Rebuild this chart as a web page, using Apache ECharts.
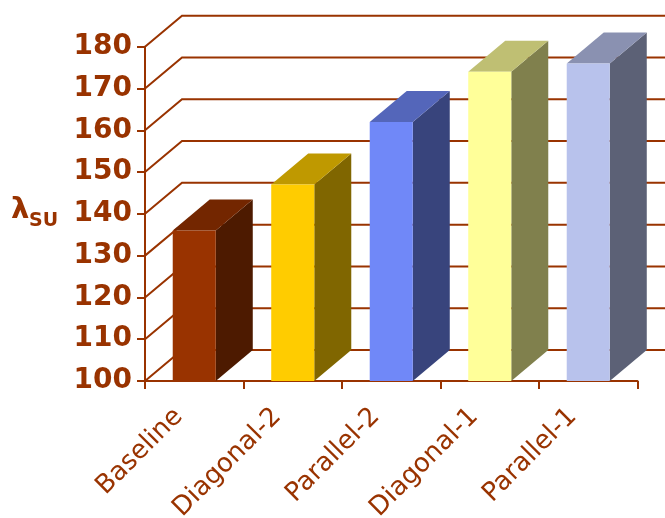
<!DOCTYPE html>
<html><head><meta charset="utf-8">
<script src="https://cdn.jsdelivr.net/npm/echarts@6/dist/echarts.min.js"></script>
<style>html,body{margin:0;padding:0;background:#fff}#c{width:665px;height:518px}</style>
</head><body><div id="c"></div>
<script>
const categories = ['Baseline', 'Diagonal-2', 'Parallel-2', 'Diagonal-1', 'Parallel-1'];
const values = [136, 147, 162, 174, 176];
const yTicks = [100, 110, 120, 130, 140, 150, 160, 170, 180];
const frontColors = ['#993300', '#FFCC00', '#7088F8', '#FFFF99', '#B8C2EC'];
const topColors = ['#732600', '#BF9900', '#5466BA', '#BFBF73', '#8A91B1'];
const sideColors = ['#4D1A00', '#806600', '#38447C', '#80804D', '#5C6176'];

const AXIS = '#993300';
const FONT = 'DejaVu Sans, Verdana, sans-serif';
const DEPTH = [37, -31];
const BAR_RATIO = 0.437;

const chart = echarts.init(document.getElementById('c'), null, {renderer: 'canvas'});

const wallData = yTicks.map(v => [0, v]);
const barData = values.map((v, i) => [i, v]);

chart.setOption({
  animation: false,
  backgroundColor: '#fff',
  grid: {left: 145, right: 27.5, top: 46.7, bottom: 137, containLabel: false, outerBoundsMode: 'none'},
  xAxis: [{
    type: 'category',
    data: categories,
    boundaryGap: true,
    axisLine: {lineStyle: {color: AXIS, width: 2}},
    axisTick: {show: true, length: 8, lineStyle: {color: AXIS, width: 2}},
    axisLabel: {rotate: 45, interval: 0, margin: 16, padding: [0, 22, 0, 0], color: AXIS, fontFamily: FONT, fontSize: 26},
    splitLine: {show: false}
  }, {
    type: 'category',
    data: categories,
    position: 'bottom',
    boundaryGap: true,
    axisLine: {show: false},
    axisTick: {show: true, inside: true, alignWithLabel: true, length: 5, lineStyle: {color: AXIS, width: 2}},
    axisLabel: {show: false},
    splitLine: {show: false}
  }],
  yAxis: {
    type: 'value',
    min: 100, max: 180, interval: 10,
    axisLine: {show: true, lineStyle: {color: AXIS, width: 2}},
    axisTick: {show: true, length: 8, lineStyle: {color: AXIS, width: 2}},
    axisLabel: {margin: 13, color: AXIS, fontFamily: FONT, fontSize: 28, fontWeight: 'bold'},
    splitLine: {show: false}
  },
  graphic: [
    {type: 'text', left: 11, top: 196, style: {text: 'λ', fill: AXIS, font: 'bold 29px ' + FONT}},
    {type: 'text', left: 29, top: 212, style: {text: 'SU', fill: AXIS, font: 'bold 19px ' + FONT}}
  ],
  series: [{
    type: 'custom',
    z: 1,
    silent: true,
    data: wallData,
    encode: {x: 0, y: 1},
    renderItem: function (params, api) {
      const cs = params.coordSys;
      const y = api.coord([0, api.value(1)])[1];
      const x0 = cs.x;
      const x1 = cs.x + cs.width;
      return {
        type: 'polyline',
        shape: {points: [[x0, y], [x0 + DEPTH[0], y + DEPTH[1]], [x1 + DEPTH[0], y + DEPTH[1]]]},
        style: {stroke: AXIS, lineWidth: 2, fill: null}
      };
    }
  }, {
    type: 'custom',
    z: 2,
    silent: true,
    data: barData,
    encode: {x: 0, y: 1},
    renderItem: function (params, api) {
      const i = api.value(0);
      const top = api.coord([i, api.value(1)]);
      const base = api.coord([i, 100]);
      const w = api.size([1, 0])[0] * BAR_RATIO;
      const L = top[0] - w / 2, R = top[0] + w / 2;
      const yt = top[1], yb = base[1];
      const dx = DEPTH[0], dy = DEPTH[1];
      return {
        type: 'group',
        children: [{
          type: 'polygon',
          shape: {points: [[R, yt], [R + dx, yt + dy], [R + dx, yb + dy], [R, yb]]},
          style: {fill: sideColors[i]}
        }, {
          type: 'polygon',
          shape: {points: [[L, yt], [R, yt], [R + dx, yt + dy], [L + dx, yt + dy]]},
          style: {fill: topColors[i]}
        }, {
          type: 'rect',
          shape: {x: L, y: yt, width: w, height: yb - yt},
          style: {fill: frontColors[i]}
        }]
      };
    }
  }]
});
</script>
</body></html>
